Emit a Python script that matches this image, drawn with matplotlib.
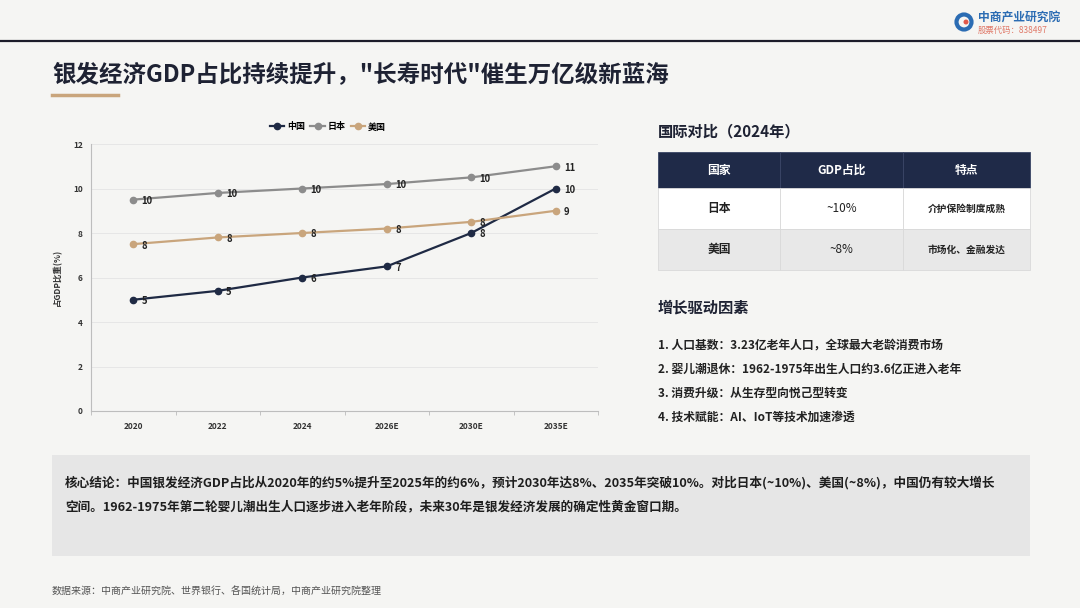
import matplotlib.pyplot as plt
from matplotlib.patches import Rectangle, Ellipse
from matplotlib.lines import Line2D

plt.rcParams['font.family'] = ['Noto Sans CJK SC', 'DejaVu Sans']

# chart data
years = ['2020', '2022', '2024', '2026E', '2030E', '2035E']
china = [5.0, 5.4, 6.0, 6.5, 8.0, 10.0]
japan = [9.5, 9.8, 10.0, 10.2, 10.5, 11.0]
usa = [7.5, 7.8, 8.0, 8.2, 8.5, 9.0]
series_names = ['中国', '日本', '美国']

# table data
table_header = ['国家', 'GDP占比', '特点']
table_rows = [['日本', '~10%', '介护保险制度成熟'],
              ['美国', '~8%', '市场化、金融发达']]

drivers = ['1. 人口基数：3.23亿老年人口，全球最大老龄消费市场',
           '2. 婴儿潮退休：1962-1975年出生人口约3.6亿正进入老年',
           '3. 消费升级：从生存型向悦己型转变',
           '4. 技术赋能：AI、IoT等技术加速渗透']

conclusion = ['核心结论：中国银发经济GDP占比从2020年的约5%提升至2025年的约6%，预计2030年达8%、2035年突破10%。对比日本(~10%)、美国(~8%)，中国仍有较大增长',
              '空间。1962-1975年第二轮婴儿潮出生人口逐步进入老年阶段，未来30年是银发经济发展的确定性黄金窗口期。']

source = '数据来源：中商产业研究院、世界银行、各国统计局，中商产业研究院整理'

W, H = 1080, 608
bg = '#f5f5f3'
navy = '#1f2a48'
colors = ['#1f2a44', '#8c8c8c', '#c9a57c']

fig = plt.figure(figsize=(W / 100, H / 100), dpi=100, facecolor=bg)


def px(x, y):
    return x / W, 1 - y / H


# header line and logo
fig.add_artist(Line2D([0, 1], [1 - 41 / H] * 2, color='#1c1c2a', lw=1.6))
fig.text(*px(978, 17), '中商产业研究院', fontsize=8.5, color='#2b6cb3',
         fontweight='bold', va='center', ha='left')
fig.text(*px(978, 30), '股票代码：838497', fontsize=6, color='#e07a6a',
         va='center', ha='left')
fig.add_artist(Ellipse(px(964, 22), 15 / W, 15 / H, transform=fig.transFigure,
                       facecolor='none', edgecolor='#2b6cb3', lw=3))
fig.add_artist(Ellipse(px(966, 22), 5 / W, 5 / H, transform=fig.transFigure,
                       facecolor='#e0584a', edgecolor='none'))

# title
fig.text(*px(52, 75), '银发经济GDP占比持续提升，"长寿时代"催生万亿级新蓝海',
         fontsize=16.9, fontweight='bold', color='#1e2233', va='center', ha='left')
fig.add_artist(Line2D([52 / W, 118 / W], [1 - 95 / H] * 2, color='#c9a57c', lw=2.5))

# line chart
ax = fig.add_axes([91 / W, 1 - 411 / H, (598 - 91) / W, (411 - 144) / H])
ax.set_facecolor('none')
x = list(range(len(years)))
for vals, name, c in zip([china, japan, usa], series_names, colors):
    ax.plot(x, vals, color=c, lw=1.6, marker='o', markersize=4.5, label=name, zorder=3)
    for xi, v in zip(x, vals):
        ax.annotate(f'{v:.0f}' if v != 6.5 else '7', (xi, v), xytext=(6, -1),
                    textcoords='offset points', fontsize=6.8, color='#222222',
                    fontweight='bold', va='center', ha='left')

ax.set_xlim(-0.5, 5.5)
ax.set_ylim(0, 12)
ax.set_yticks(range(0, 13, 2))
ax.set_xticks(x)
ax.set_xticklabels(years)
ax.set_xticks([i + 0.5 for i in range(-1, 6)], minor=True)
ax.tick_params(axis='x', which='major', length=0, labelsize=6, pad=8)
ax.tick_params(axis='x', which='minor', length=3, color='#bbbbbb')
ax.tick_params(axis='y', length=0, labelsize=6, pad=6)
for lab in ax.get_xticklabels() + ax.get_yticklabels():
    lab.set_fontweight('bold')
    lab.set_color('#333333')
ax.grid(axis='y', color='#e6e6e6', lw=0.7)
ax.set_axisbelow(True)
for s in ['top', 'right']:
    ax.spines[s].set_visible(False)
for s in ['left', 'bottom']:
    ax.spines[s].set_color('#bdbdbd')
ax.set_ylabel('占GDP比重(%)', fontsize=6, fontweight='bold', color='#333333', labelpad=8)
fig.legend(*ax.get_legend_handles_labels(), loc='center', bbox_to_anchor=px(328, 127),
           ncol=3, frameon=False, handlelength=1.6, columnspacing=0.6,
           handletextpad=0.3, prop={'weight': 'bold', 'size': 6.5})

# right panel: table
fig.text(*px(658, 131), '国际对比（2024年）', fontsize=11, fontweight='bold',
         color='#1e2233', va='center', ha='left')
col_edges = [658, 780, 903, 1030]
row_edges = [152, 188, 229, 270]
fills = [navy, '#ffffff', '#e8e8e8']
cells = [table_header] + table_rows
for r in range(3):
    for c in range(3):
        x0, x1 = col_edges[c], col_edges[c + 1]
        y0, y1 = row_edges[r], row_edges[r + 1]
        fig.add_artist(Rectangle((x0 / W, 1 - y1 / H), (x1 - x0) / W, (y1 - y0) / H,
                                 transform=fig.transFigure, facecolor=fills[r],
                                 edgecolor='#d9d9d9' if r else '#3a4566', lw=0.6))
        txt = cells[r][c]
        if r == 0:
            kw = dict(color='white', fontsize=8.5, fontweight='bold')
        elif c == 2:
            kw = dict(color='#222222', fontsize=7, fontweight='bold')
        elif c == 0:
            kw = dict(color='#222222', fontsize=8.5, fontweight='bold')
        else:
            kw = dict(color='#222222', fontsize=8.5, fontweight='medium')
        fig.text(*px((x0 + x1) / 2, (y0 + y1) / 2), txt, ha='center', va='center', **kw)

# right panel: drivers
fig.text(*px(658, 308), '增长驱动因素', fontsize=11, fontweight='bold',
         color='#1e2233', va='center', ha='left')
for i, d in enumerate(drivers):
    fig.text(*px(658, 345 + 24 * i), d, fontsize=8.5, fontweight='bold',
             color='#222222', va='center', ha='left')

# conclusion box
fig.add_artist(Rectangle((52 / W, 1 - 556 / H), (1030 - 52) / W, (556 - 455) / H,
                         transform=fig.transFigure, facecolor='#e6e6e6', edgecolor='none'))
for i, line in enumerate(conclusion):
    fig.text(*px(65, 483 + 24 * i), line, fontsize=9.1, fontweight='bold',
             color='#1e1e1e', va='center', ha='left')

fig.text(*px(52, 592), source, fontsize=7.2, color='#555555', va='center', ha='left')

fig.savefig('out.png', dpi=100, facecolor=bg)
